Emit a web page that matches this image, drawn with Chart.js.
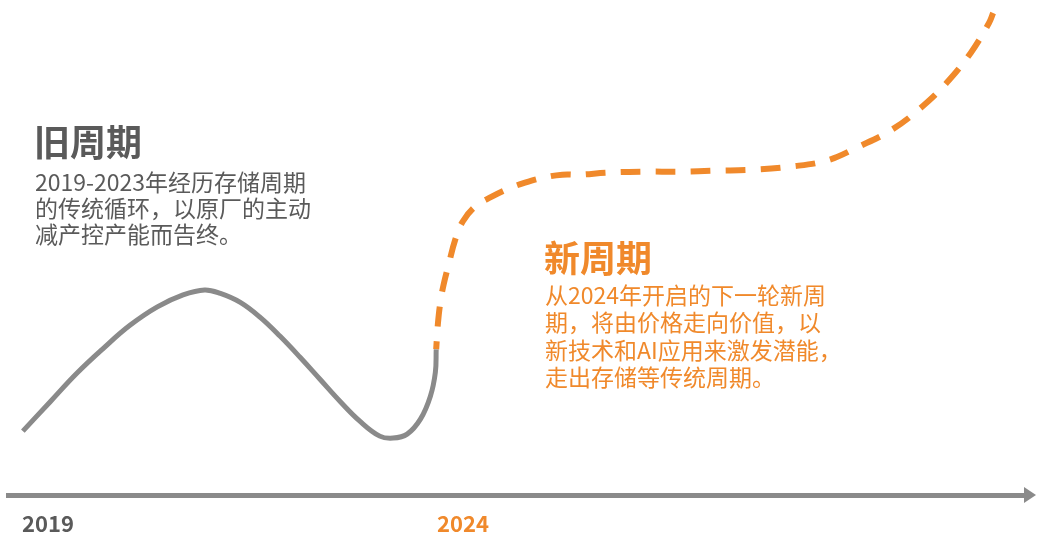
<!DOCTYPE html>
<html>
<head>
<meta charset="utf-8">
<script src="https://cdn.jsdelivr.net/npm/chart.js@4/dist/chart.umd.min.js"></script>
<style>
  html, body { margin: 0; padding: 0; background: #fff; }
  #wrap { width: 1037px; height: 535px; }
</style>
</head>
<body>
<div id="wrap"><canvas id="cycle" width="1037" height="535"></canvas></div>
<script>
// old cycle (solid grey), years vs. relative index
const oldYears = [2019.01, 2019.34, 2019.66, 2019.98, 2020.30, 2020.63, 2020.94, 2021.20, 2021.39, 2021.63, 2021.87, 2022.11, 2022.35, 2022.59, 2022.83, 2023.07, 2023.31, 2023.47, 2023.64, 2023.80, 2023.92, 2023.98, 2023.99];
const oldIndex = [12.8, 18.7, 24.4, 29.4, 34.0, 37.7, 40.1, 41.1, 40.4, 38.6, 35.6, 31.8, 27.6, 23.2, 18.8, 14.8, 11.8, 11.4, 12.2, 15.2, 19.8, 24.6, 29.2];

// new cycle (dashed orange)
const newYears = [2023.99, 2024.01, 2024.04, 2024.08, 2024.14, 2024.22, 2024.31, 2024.46, 2024.66, 2024.86, 2025.06, 2025.28, 2025.51, 2025.72, 2026.05, 2026.49, 2026.93, 2027.37, 2027.81, 2028.25, 2028.69, 2029.08, 2029.48, 2029.83, 2030.14, 2030.43, 2030.65, 2030.70];
const newIndex = [29.2, 34.2, 38.6, 42.2, 46.2, 51.2, 54.8, 57.8, 59.8, 61.4, 62.6, 63.6, 64.2, 64.2, 64.6, 64.8, 64.8, 65.0, 65.2, 65.8, 67.0, 69.8, 73.2, 77.6, 82.6, 88.6, 94.6, 96.6];

const yearTicks = [2019, 2024];

const oldTitle = '旧周期';
const oldNote = ['2019-2023年经历存储周期', '的传统循环，以原厂的主动', '减产控产能而告终。'];
const newTitle = '新周期';
const newNote = ['从2024年开启的下一轮新周', '期，将由价格走向价值，以', '新技术和AI应用来激发潜能，', '走出存储等传统周期。'];

const GREY = '#8a8a8a';
const DARK = '#5a5a5a';
const ORANGE = '#f0892b';
const CJK = '"Noto Sans CJK SC", "Noto Sans", sans-serif';

const toPoints = (xs, ys) => xs.map((x, i) => ({ x: x, y: ys[i] }));

// arrow head on the time axis + the two text blocks
const decorations = {
    id: 'decorations',
    afterDraw(chart) {
        const ctx = chart.ctx;
        const area = chart.chartArea;
        const yAxis = chart.scales.x.top;

        ctx.save();
        ctx.fillStyle = GREY;
        ctx.beginPath();
        ctx.moveTo(area.right - 1, yAxis - 8);
        ctx.lineTo(area.right + 11, yAxis);
        ctx.lineTo(area.right - 1, yAxis + 8);
        ctx.closePath();
        ctx.fill();

        ctx.textAlign = 'left';
        ctx.textBaseline = 'middle';

        ctx.fillStyle = DARK;
        ctx.font = 'bold 36px ' + CJK;
        ctx.fillText(oldTitle, 34, 142);
        ctx.font = '23px ' + CJK;
        oldNote.forEach((line, i) => ctx.fillText(line, 35, 182 + i * 26));

        ctx.fillStyle = ORANGE;
        ctx.font = 'bold 36px ' + CJK;
        ctx.fillText(newTitle, 544, 258);
        ctx.font = '23px ' + CJK;
        newNote.forEach((line, i) => ctx.fillText(line, 545, 295 + i * 27.4));
        ctx.restore();
    }
};

new Chart(document.getElementById('cycle'), {
    type: 'line',
    data: {
        datasets: [
            {
                label: '旧周期',
                data: toPoints(oldYears, oldIndex),
                borderColor: GREY,
                borderWidth: 5,
                borderCapStyle: 'butt',
                pointRadius: 0,
                tension: 0.4,
                clip: false
            },
            {
                label: '新周期',
                data: toPoints(newYears, newIndex),
                borderColor: ORANGE,
                borderWidth: 6,
                borderDash: [20, 15],
                borderDashOffset: 12,
                borderCapStyle: 'butt',
                pointRadius: 0,
                tension: 0.4,
                clip: false
            }
        ]
    },
    options: {
        responsive: false,
        animation: false,
        devicePixelRatio: 1,
        layout: { padding: { left: 8, right: 12, top: 0, bottom: -18 } },
        plugins: {
            legend: { display: false },
            tooltip: { enabled: false }
        },
        scales: {
            x: {
                type: 'linear',
                min: 2018.831,
                max: 2031.084,
                afterBuildTicks: scale => { scale.ticks = yearTicks.map(v => ({ value: v })); },
                grid: { display: false, drawTicks: false },
                border: { display: true, color: GREY, width: 5 },
                ticks: {
                    autoSkip: false,
                    maxRotation: 0,
                    align: 'start',
                    padding: 18,
                    font: { family: CJK, size: 22, weight: 'bold', lineHeight: 1 },
                    color: c => (c.tick && c.tick.value === 2024 ? ORANGE : DARK),
                    callback: v => String(v)
                }
            },
            y: {
                display: false,
                min: 0,
                max: 99.2
            }
        }
    },
    plugins: [decorations]
});
</script>
</body>
</html>
